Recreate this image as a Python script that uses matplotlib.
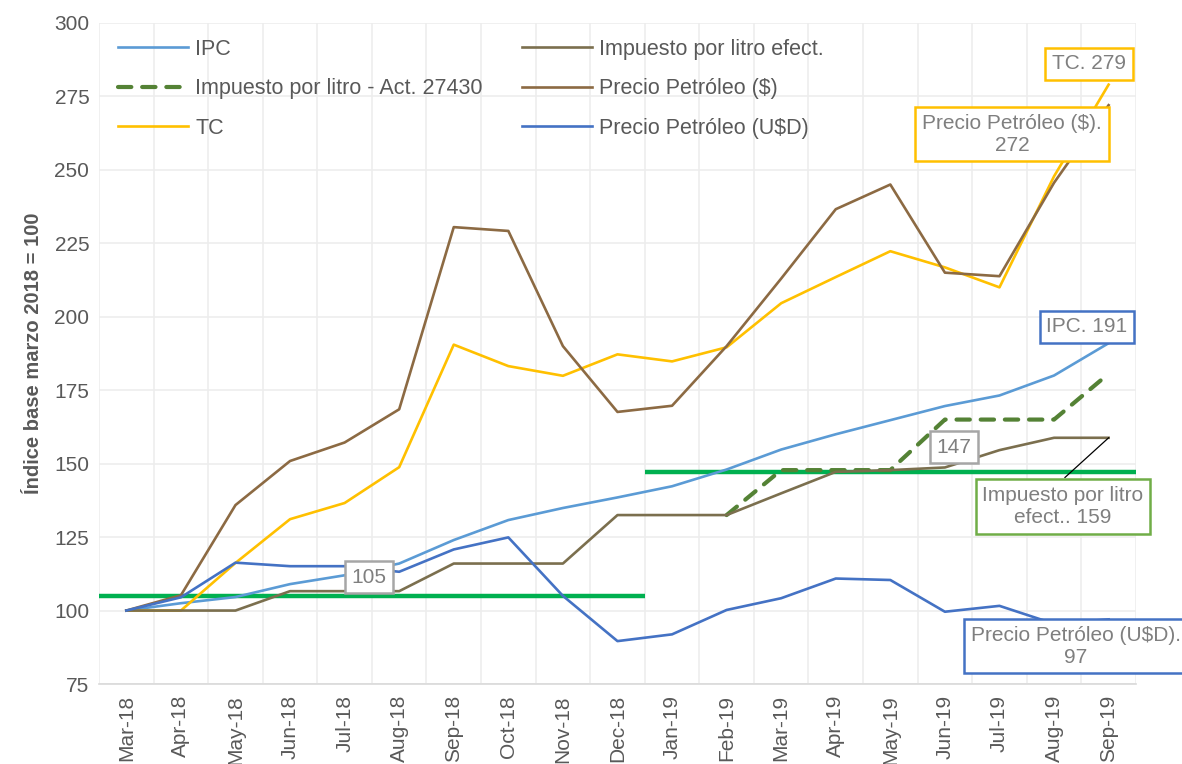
import numpy as np
import matplotlib
matplotlib.use('Agg')
import matplotlib.pyplot as plt

plt.rcParams['font.family'] = ['Liberation Sans', 'DejaVu Sans']

# data (index base marzo 2018 = 100)
months = ['Mar-18', 'Apr-18', 'May-18', 'Jun-18', 'Jul-18', 'Aug-18', 'Sep-18', 'Oct-18',
          'Nov-18', 'Dec-18', 'Jan-19', 'Feb-19', 'Mar-19', 'Apr-19', 'May-19', 'Jun-19',
          'Jul-19', 'Aug-19', 'Sep-19']
ipc = [100, 102.5, 104.6, 109, 112, 116, 124, 130.8, 134.9, 138.5, 142.3, 148, 154.8,
       160, 164.8, 169.6, 173.2, 180, 191]
imp_act = [np.nan] * 11 + [132.5, 147.8, 147.8, 147.8, 165, 165, 165, 180.6]
tc = [100, 100, 116.2, 131.1, 136.6, 148.8, 190.5, 183.2, 179.9, 187.2, 184.8, 189.6,
      204.6, 213.5, 222.3, 216.8, 210, 247.8, 279]
imp_efect = [100, 100, 100, 106.6, 106.6, 106.6, 116, 116, 116, 132.5, 132.5, 132.5,
             139.9, 147.2, 147.8, 148.7, 154.6, 158.8, 158.8]
pet_ars = [100, 105.2, 135.9, 150.9, 157.2, 168.5, 230.5, 229.2, 190, 167.6, 169.7, 190,
           213, 236.6, 245, 215, 213.8, 245.6, 272]
pet_usd = [100, 104.5, 116.3, 115.1, 115.1, 113.2, 120.8, 124.9, 105, 89.6, 91.9, 100.2,
           104.2, 110.9, 110.4, 99.6, 101.6, 95.5, 97]
# reference levels (first and second period)
ref_levels = [105, 147]
ref_spans = [(0, 9), (10, 18)]

gray = '#595959'
x = np.arange(len(months))

fig = plt.figure(figsize=(11.82, 7.64), dpi=100)
ax = fig.add_axes([0.0838, 0.1047, 0.961 - 0.0838, 0.970 - 0.1047])

ax.plot(x, ipc, color='#5B9BD5', lw=1.9, label='IPC', zorder=3)
ax.plot(x, imp_act, color='#548235', lw=3, ls=(0, (3.2, 2.6)), dash_capstyle='round',
        label='Impuesto por litro - Act. 27430', zorder=3)
ax.plot(x, tc, color='#FFC000', lw=1.9, label='TC', zorder=3)
ax.plot(x, imp_efect, color='#7B6F4E', lw=1.9, label='Impuesto por litro efect.', zorder=3)
ax.plot(x, pet_ars, color='#8C6A43', lw=1.9, label='Precio Petróleo ($)', zorder=3)
ax.plot(x, pet_usd, color='#4472C4', lw=1.9, label='Precio Petróleo (U$D)', zorder=3)

for lvl, (a, b) in zip(ref_levels, ref_spans):
    ax.hlines(lvl, a - 0.5, b + 0.5, color='#00B050', lw=3.2, zorder=2)

ax.set_xlim(-0.5, len(months) - 0.5)
ax.set_ylim(75, 300)
ax.set_yticks(np.arange(75, 301, 25))
ax.set_xticks(x)
ax.set_xticklabels(months, rotation=90)
ax.set_xticks(np.arange(-0.5, len(months), 1), minor=True)
ax.tick_params(axis='both', which='both', length=0, colors=gray, labelsize=15)
ax.tick_params(axis='x', pad=8)
ax.tick_params(axis='y', pad=7)
ax.grid(True, which='minor', axis='x', color='#EDEDED', lw=1.2)
ax.grid(True, which='major', axis='y', color='#EDEDED', lw=1.2)
ax.set_axisbelow(True)
for s in ['top', 'right', 'left']:
    ax.spines[s].set_visible(False)
ax.spines['bottom'].set_color('#D9D9D9')
ax.spines['bottom'].set_linewidth(1.2)

ax.set_ylabel('Índice base marzo 2018 = 100', fontsize=14.5, fontweight='bold', color=gray,
              labelpad=8)

leg = ax.legend(ncol=2, loc='upper left', bbox_to_anchor=(0.0, 1.005), frameon=False,
                fontsize=15.5, handlelength=3.25, handletextpad=0.33, columnspacing=1.82,
                labelspacing=0.85)
for t in leg.get_texts():
    t.set_color(gray)


def box_label(txt, xy, edge):
    t = ax.text(xy[0], xy[1], txt, ha='center', va='center', fontsize=15, color='#7F7F7F',
                multialignment='center', zorder=6,
                bbox=dict(boxstyle='square,pad=0.32', fc='white', ec=edge, lw=1.8))
    t.set_clip_on(False)
    return t


box_label(f'TC. {tc[-1]:.0f}', (17.64, 286.1), '#FFC000')
box_label(f'Precio Petróleo ($).\n{pet_ars[-1]:.0f}', (16.23, 262.1), '#FFC000')
box_label(f'IPC. {ipc[-1]:.0f}', (17.6, 196.6), '#4472C4')
ax.plot([17.2, 18], [145.3, imp_efect[-1]], color='black', lw=0.9, zorder=5)
box_label(f'Impuesto por litro\nefect.. {imp_efect[-1]:.0f}', (17.16, 135.4), '#70AD47')
box_label(f'{ref_levels[1]}', (15.16, 155.6), '#A6A6A6')
box_label(f'{ref_levels[0]}', (4.45, 111.4), '#A6A6A6')
box_label(f'Precio Petróleo (U$D).\n{pet_usd[-1]:.0f}', (17.4, 87.9), '#4472C4')

fig.savefig('out.png', dpi=100)
